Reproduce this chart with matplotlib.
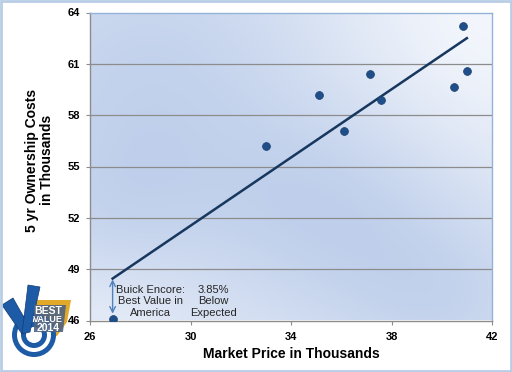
import numpy as np
import matplotlib
matplotlib.use("Agg")
import matplotlib.pyplot as plt
from matplotlib.patches import Polygon, Circle, Rectangle
from matplotlib.colors import LinearSegmentedColormap

plt.rcParams['font.family'] = ['Liberation Sans', 'DejaVu Sans']

# ---- data ----
market_price = [26.9, 33.0, 35.1, 36.1, 37.15, 37.6, 40.5, 40.85, 41.0]
ownership_cost = [46.1, 56.2, 59.15, 57.1, 60.4, 58.9, 59.65, 63.2, 60.6]
trend_x = [26.9, 41.0]
trend_y = [48.45, 62.5]
x_ticks = [26, 30, 34, 38, 42]
y_ticks = [46, 49, 52, 55, 58, 61, 64]
label_encore = "Buick Encore:\nBest Value in\nAmerica"
label_pct = "3.85%\nBelow\nExpected"

W, H = 512, 372
fig = plt.figure(figsize=(W / 100, H / 100), dpi=100)
fig.patch.set_facecolor('white')

# outer border
fig.patches.append(Rectangle((0.002, 0.003), 0.996, 0.994, transform=fig.transFigure,
                             fill=False, edgecolor='#b9cde5', linewidth=2))

ax = fig.add_axes([90 / W, 1 - 320.5 / H, 402 / W, 308 / H])
ax.set_xlim(26, 42)
ax.set_ylim(46, 64)

# gradient background
nx, ny = 200, 150
gx, gy = np.meshgrid(np.linspace(0, 1, nx), np.linspace(0, 1, ny))
def blob(cx, cy, sx, sy):
    return np.exp(-(((gx - cx) / sx) ** 2 + ((gy - cy) / sy) ** 2))
v = (0.75 * blob(0.15, 0.8, 0.45, 0.5) + 0.75 * blob(0.6, 0.35, 0.35, 0.35)
     + 0.6 * blob(0.9, 0.05, 0.3, 0.3) + 0.4 * blob(0.05, 0.35, 0.25, 0.3))
v = v - 0.6 * blob(1.0, 1.0, 0.4, 0.5) - 0.3 * blob(0.05, 0.0, 0.2, 0.2)
v = (v - v.min()) / (v.max() - v.min())
cmap = LinearSegmentedColormap.from_list('bg', ['#f3f6fc', '#d8e2f3', '#bfcfeb'])
ax.imshow(v, extent=[26, 42, 46, 64], origin='lower', aspect='auto', cmap=cmap,
          zorder=0, interpolation='bilinear')

# grid
for yv in y_ticks[1:-1]:
    ax.axhline(yv, color='#8c8c8c', linewidth=0.9, zorder=1)

ax.plot(trend_x, trend_y, color='#17375e', linewidth=1.8, zorder=3)
ax.scatter(market_price, ownership_cost, s=32, color='#1f4e89', zorder=4,
           edgecolors='#1a3f6e', linewidths=0.5)

# annotation arrow
ax.annotate('', xy=(trend_x[0], ownership_cost[0] + 0.3), xytext=(trend_x[0], trend_y[0] - 0.05),
            arrowprops=dict(arrowstyle='<->', color='#4f81bd', lw=1.0,
                            shrinkA=0, shrinkB=0), zorder=3)
ax.text(28.4, 47.12, label_encore, ha='center', va='center', fontsize=8,
        color='#262626', linespacing=1.2, zorder=5)
ax.text(30.9, 47.12, label_pct, ha='center', va='center', fontsize=8,
        color='#262626', linespacing=1.2, zorder=5)

ax.set_xticks(x_ticks)
ax.set_yticks(y_ticks)
ax.set_xticklabels([str(t) for t in x_ticks], fontsize=8, fontweight='bold')
ax.set_yticklabels([str(t) for t in y_ticks], fontsize=8, fontweight='bold')
ax.tick_params(axis='both', length=3, width=0.8, color='#8c8c8c', pad=4)
ax.tick_params(axis='x', pad=5)
for s in ['left', 'bottom']:
    ax.spines[s].set_color('#8c8c8c')
    ax.spines[s].set_linewidth(1.0)
for s in ['top', 'right']:
    ax.spines[s].set_color('#95b3d7')
    ax.spines[s].set_linewidth(1.0)

ax.set_xlabel('Market Price in Thousands', fontsize=10, fontweight='bold', labelpad=4)
ax.set_ylabel('5 yr Ownership Costs\nin Thousands', fontsize=10, fontweight='bold',
              linespacing=1.05)
ax.yaxis.set_label_coords(-0.09, 0.52)

# ---- logo (approximation) ----
lg = fig.add_axes([0, 1 - 360 / H, 80 / W, 80 / H])
lg.set_xlim(0, 80)
lg.set_ylim(80, 0)
lg.axis('off')
blue = '#1d5ba6'
lg.add_patch(Polygon([[31, 20], [71, 20], [67, 42], [57, 56], [31, 56]], closed=True,
                     facecolor='#e2a82a', edgecolor='none', zorder=1))
lg.add_patch(Circle((34, 55), 22, facecolor=blue, edgecolor='none', zorder=2))
lg.add_patch(Circle((34, 55), 17, facecolor='white', edgecolor='none', zorder=2))
lg.add_patch(Circle((34, 55), 13, facecolor=blue, edgecolor='none', zorder=2))
lg.add_patch(Circle((34, 55), 8, facecolor='white', edgecolor='none', zorder=2))
lg.add_patch(Polygon([[2, 25], [13, 18], [30, 48], [22, 54]], closed=True,
                     facecolor=blue, edgecolor='#0f3c78', linewidth=0.5, zorder=3))
lg.add_patch(Polygon([[22, 54], [28, 5], [40, 7], [30, 52]], closed=True,
                     facecolor=blue, edgecolor='#0f3c78', linewidth=0.5, zorder=3))
lg.add_patch(Polygon([[34, 25], [66, 25], [63, 52], [34, 52]], closed=True,
                     facecolor='#4e6382', edgecolor='none', alpha=0.9, zorder=4))
lg.text(48, 31, 'BEST', color='white', fontsize=7.5, fontweight='bold', ha='center', va='center', zorder=5)
lg.text(48, 39, 'VALUE', color='white', fontsize=6.5, fontweight='bold', ha='center', va='center', zorder=5)
lg.text(48, 48, '2014', color='white', fontsize=7.5, fontweight='bold', ha='center', va='center', zorder=5)

fig.savefig('out.png', dpi=100)
